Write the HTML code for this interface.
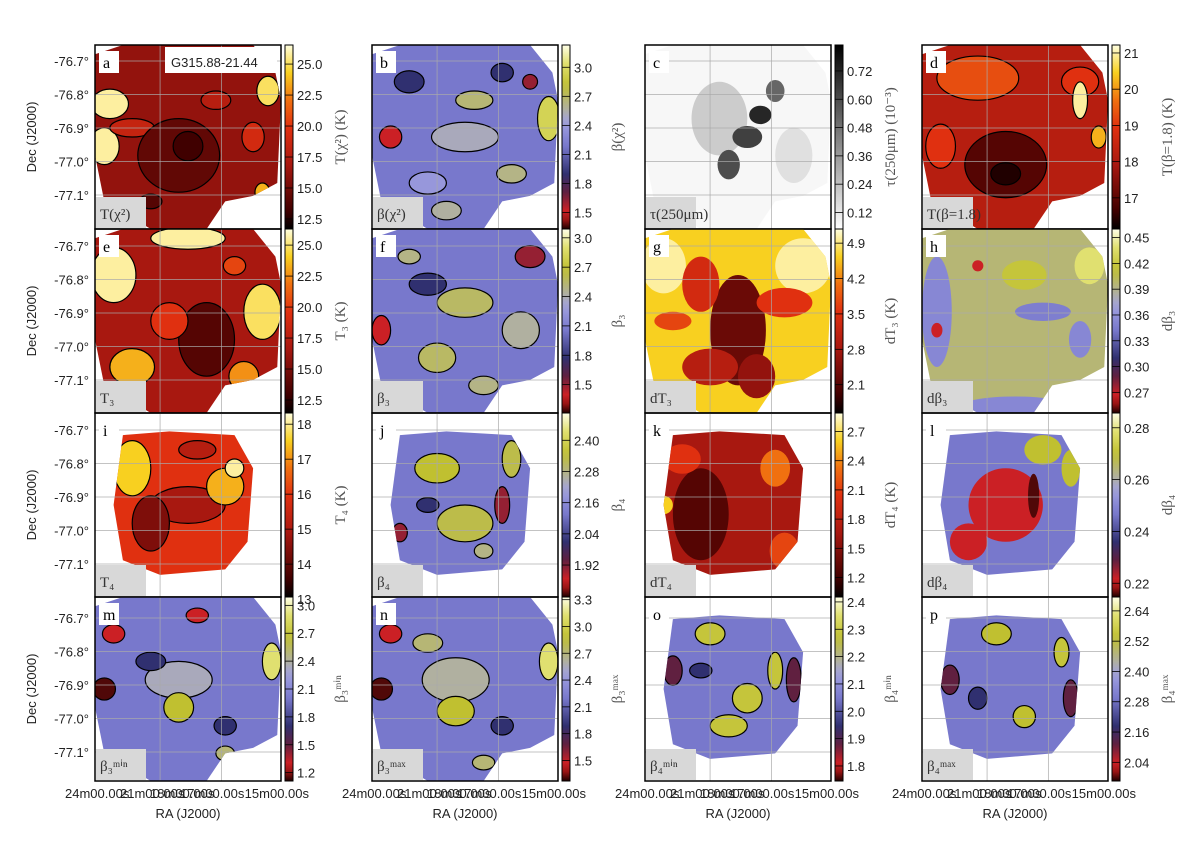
<!DOCTYPE html>
<html><head><meta charset="utf-8"><style>
body{margin:0;background:#fff;width:1200px;height:842px;overflow:hidden}
svg{display:block}
.tk{font-family:"Liberation Sans",sans-serif;font-size:13px;fill:#222}
.sr{font-family:"Liberation Serif",serif}
</style></head><body>
<svg id="fig" width="1200" height="842" xmlns="http://www.w3.org/2000/svg"></svg>
<script>
// ---- data ----
const panelIds = ["a","b","c","d","e","f","g","h","i","j","k","l","m","n","o","p"];
const panelTitles = ["T(χ²)","β(χ²)","τ(250μm)","T(β=1.8)","T₃","β₃","dT₃","dβ₃","T₄","β₄","dT₄","dβ₄","β₃ᵐⁱⁿ","β₃ᵐᵃˣ","β₄ᵐⁱⁿ","β₄ᵐᵃˣ"];
const cbarLabels = ["T(χ²) (K)","β(χ²)","τ(250μm) (10⁻³)","T(β=1.8) (K)","T₃ (K)","β₃","dT₃ (K)","dβ₃","T₄ (K)","β₄","dT₄ (K)","dβ₄","β₃ᵐⁱⁿ","β₃ᵐᵃˣ","β₄ᵐⁱⁿ","β₄ᵐᵃˣ"];
const cmaps = ["hot","beta","gray","hot","hot","beta","hot","beta","hot","beta","hot","beta","beta","beta","beta","beta"];
const cbarMin = [11.69,1.33,0.05,16.14,11.45,1.21,1.54,0.246,13.06,1.797,1.0,0.2147,1.11,1.27,1.745,1.966];
const cbarMax = [26.54,3.23,0.83,21.22,26.3,3.09,5.18,0.46,18.32,2.505,2.89,0.2857,3.09,3.33,2.418,2.695];
const cbarTicks = [
 ["12.5","15.0","17.5","20.0","22.5","25.0"],["1.5","1.8","2.1","2.4","2.7","3.0"],
 ["0.12","0.24","0.36","0.48","0.60","0.72"],["17","18","19","20","21"],
 ["12.5","15.0","17.5","20.0","22.5","25.0"],["1.5","1.8","2.1","2.4","2.7","3.0"],
 ["2.1","2.8","3.5","4.2","4.9"],["0.27","0.30","0.33","0.36","0.39","0.42","0.45"],
 ["13","14","15","16","17","18"],["1.92","2.04","2.16","2.28","2.40"],
 ["1.2","1.5","1.8","2.1","2.4","2.7"],["0.22","0.24","0.26","0.28"],
 ["1.2","1.5","1.8","2.1","2.4","2.7","3.0"],["1.5","1.8","2.1","2.4","2.7","3.0","3.3"],
 ["1.8","1.9","2.0","2.1","2.2","2.3","2.4"],["2.04","2.16","2.28","2.40","2.52","2.64"]];
const outlines = ["big","big","big","big","big","big","big","big","sq","sq","sq","sq","big","big","sq","sq"];
const contoured = [1,1,0,1,1,1,0,0,1,1,0,0,1,1,1,1];
const baseLevel = [0.3,0.45,0.03,0.4,0.35,0.45,0.85,0.7,0.55,0.45,0.35,0.45,0.45,0.45,0.45,0.45];
// patches: [cx, cy, rx, ry, level]
const patches = [
 [[0.08,0.32,0.1,0.08,0.95],[0.05,0.55,0.08,0.1,0.95],[0.93,0.25,0.06,0.08,0.9],[0.2,0.45,0.12,0.05,0.45],[0.45,0.6,0.22,0.2,0.18],[0.5,0.55,0.08,0.08,0.1],[0.85,0.5,0.06,0.08,0.5],[0.9,0.8,0.04,0.05,0.8],[0.65,0.3,0.08,0.05,0.4],[0.3,0.85,0.06,0.04,0.15]],
 [[0.2,0.2,0.08,0.06,0.3],[0.95,0.4,0.06,0.12,0.85],[0.5,0.5,0.18,0.08,0.62],[0.55,0.3,0.1,0.05,0.7],[0.1,0.5,0.06,0.06,0.1],[0.3,0.75,0.1,0.06,0.55],[0.75,0.7,0.08,0.05,0.68],[0.7,0.15,0.06,0.05,0.3],[0.4,0.9,0.08,0.05,0.65],[0.85,0.2,0.04,0.04,0.15]],
 [[0.4,0.4,0.15,0.2,0.2],[0.8,0.6,0.1,0.15,0.12],[0.55,0.5,0.08,0.06,0.75],[0.45,0.65,0.06,0.08,0.7],[0.62,0.38,0.06,0.05,0.85],[0.7,0.25,0.05,0.06,0.6]],
 [[0.3,0.18,0.22,0.12,0.62],[0.85,0.2,0.1,0.08,0.55],[0.45,0.65,0.22,0.18,0.15],[0.45,0.7,0.08,0.06,0.05],[0.85,0.3,0.04,0.1,0.95],[0.1,0.55,0.08,0.12,0.55],[0.95,0.5,0.04,0.06,0.8]],
 [[0.1,0.25,0.12,0.15,0.95],[0.5,0.05,0.2,0.06,0.95],[0.9,0.45,0.1,0.15,0.9],[0.2,0.75,0.12,0.1,0.8],[0.6,0.6,0.15,0.2,0.15],[0.4,0.5,0.1,0.1,0.55],[0.8,0.8,0.08,0.08,0.75],[0.75,0.2,0.06,0.05,0.6]],
 [[0.5,0.4,0.15,0.08,0.72],[0.35,0.7,0.1,0.08,0.72],[0.8,0.55,0.1,0.1,0.65],[0.05,0.55,0.05,0.08,0.1],[0.85,0.15,0.08,0.06,0.15],[0.3,0.3,0.1,0.06,0.3],[0.6,0.85,0.08,0.05,0.68],[0.2,0.15,0.06,0.04,0.68]],
 [[0.1,0.2,0.12,0.15,0.95],[0.85,0.2,0.15,0.15,0.95],[0.5,0.55,0.15,0.3,0.2],[0.3,0.3,0.1,0.15,0.5],[0.75,0.4,0.15,0.08,0.55],[0.35,0.75,0.15,0.1,0.4],[0.6,0.8,0.1,0.12,0.3],[0.15,0.5,0.1,0.05,0.6]],
 [[0.08,0.45,0.08,0.3,0.5],[0.5,0.97,0.3,0.06,0.5],[0.65,0.45,0.15,0.05,0.47],[0.9,0.2,0.08,0.1,0.9],[0.85,0.6,0.06,0.1,0.5],[0.08,0.55,0.03,0.04,0.1],[0.3,0.2,0.03,0.03,0.1],[0.55,0.25,0.12,0.08,0.8]],
 [[0.5,0.5,0.2,0.1,0.35],[0.2,0.3,0.1,0.15,0.85],[0.3,0.6,0.1,0.15,0.25],[0.7,0.4,0.1,0.1,0.8],[0.75,0.3,0.05,0.05,0.95],[0.55,0.2,0.1,0.05,0.4]],
 [[0.35,0.3,0.12,0.08,0.78],[0.5,0.6,0.15,0.1,0.75],[0.75,0.25,0.05,0.1,0.75],[0.7,0.5,0.04,0.1,0.15],[0.15,0.65,0.04,0.05,0.15],[0.3,0.5,0.06,0.04,0.3],[0.6,0.75,0.05,0.04,0.68]],
 [[0.3,0.55,0.15,0.25,0.15],[0.7,0.3,0.08,0.1,0.7],[0.2,0.25,0.1,0.08,0.55],[0.75,0.75,0.08,0.1,0.6],[0.1,0.5,0.05,0.05,0.85]],
 [[0.45,0.5,0.2,0.2,0.1],[0.25,0.7,0.1,0.1,0.1],[0.65,0.2,0.1,0.08,0.78],[0.8,0.3,0.05,0.1,0.78],[0.6,0.45,0.03,0.12,0.02]],
 [[0.45,0.45,0.18,0.1,0.62],[0.45,0.6,0.08,0.08,0.78],[0.95,0.35,0.05,0.1,0.9],[0.1,0.2,0.06,0.05,0.1],[0.05,0.5,0.06,0.06,0.02],[0.55,0.1,0.06,0.04,0.1],[0.3,0.35,0.08,0.05,0.3],[0.7,0.7,0.06,0.05,0.3],[0.7,0.85,0.05,0.04,0.7]],
 [[0.45,0.45,0.18,0.12,0.65],[0.45,0.62,0.1,0.08,0.78],[0.95,0.35,0.05,0.1,0.9],[0.3,0.25,0.08,0.05,0.7],[0.1,0.2,0.06,0.05,0.1],[0.05,0.5,0.06,0.06,0.02],[0.7,0.7,0.06,0.05,0.3],[0.6,0.9,0.06,0.04,0.7]],
 [[0.35,0.2,0.08,0.06,0.8],[0.55,0.55,0.08,0.08,0.8],[0.45,0.7,0.1,0.06,0.8],[0.7,0.4,0.04,0.1,0.8],[0.8,0.45,0.04,0.12,0.2],[0.15,0.4,0.05,0.08,0.2],[0.3,0.4,0.06,0.04,0.3]],
 [[0.4,0.2,0.08,0.06,0.78],[0.55,0.65,0.06,0.06,0.78],[0.75,0.3,0.04,0.08,0.8],[0.8,0.55,0.04,0.1,0.2],[0.15,0.45,0.05,0.08,0.2],[0.3,0.55,0.05,0.06,0.3]]];
const decTicks = ["-76.7°","-76.8°","-76.9°","-77.0°","-77.1°"];
const raTicks = ["24m00.00s","21m00.00s","18m00.00s","17m00.00s","15m00.00s"];
// ---- layout ----
const colX=[95,372,645,922], rowY=[45,229,413,597], PW=186, PH=184;
const decOff=[16,17,17,21], decStep=33.5;
const stops={hot:[[0,"#000000"],[0.1,"#400000"],[0.35,"#a81810"],[0.55,"#e03010"],[0.7,"#f07010"],[0.85,"#f8d020"],[1,"#ffffe0"]],
beta:[[0,"#200000"],[0.08,"#e02020"],[0.2,"#602040"],[0.3,"#303070"],[0.45,"#7878cc"],[0.58,"#a0a0e0"],[0.65,"#b0b0a0"],[0.78,"#c0c030"],[0.9,"#e0e070"],[1,"#ffffe8"]],
gray:[[0,"#ffffff"],[1,"#000000"]]};
function hx(c){return [1,3,5].map(i=>parseInt(c.substr(i,2),16));}
function cmap(name,t){const s=stops[name];t=Math.max(0,Math.min(1,t));
 for(let i=1;i<s.length;i++){if(t<=s[i][0]){const a=hx(s[i-1][1]),b=hx(s[i][1]),f=(t-s[i-1][0])/(s[i][0]-s[i-1][0]);
  return "rgb("+a.map((v,k)=>Math.round(v+(b[k]-v)*f)).join(",")+")";}}return s[s.length-1][1];}
const shapes={big:[[0,0.05],[0.15,0],[0.85,0],[0.97,0.15],[1,0.3],[0.98,0.75],[0.85,0.82],[0.7,0.85],[0.6,1],[0.3,1],[0.05,0.85],[0,0.6]],
sq:[[0.15,0.12],[0.4,0.1],[0.75,0.12],[0.85,0.3],[0.82,0.7],[0.7,0.85],[0.35,0.88],[0.15,0.8],[0.1,0.5]]};
const NS="http://www.w3.org/2000/svg", svg=document.getElementById("fig");
function E(t,a,p){const e=document.createElementNS(NS,t);for(const k in a)e.setAttribute(k,a[k]);(p||svg).appendChild(e);return e;}
const defs=E("defs",{});
panelIds.forEach((id,i)=>{
 const c=i%4,r=Math.floor(i/4),x0=colX[c],y0=rowY[r];
 const g=E("g",{});
 
 
 const sx=v=>x0+v*PW, sy=v=>y0+v*PH;
 const cp=E("clipPath",{id:"cp"+i},defs);
 E("polygon",{points:shapes[outlines[i]].map(p=>sx(p[0])+","+sy(p[1])).join(" ")},cp);
 const m=E("g",{"clip-path":"url(#cp"+i+")"},g);
 
 
 E("rect",{x:x0,y:y0,width:PW,height:PH,fill:cmap(cmaps[i],baseLevel[i])},m);
 patches[i].forEach(p=>{
  const el=E("ellipse",{cx:sx(p[0]),cy:sy(p[1]),rx:p[2]*PW,ry:p[3]*PH,fill:cmap(cmaps[i],p[4]),stroke:contoured[i]?"#000":"none","stroke-width":1.2},m);
  
  
 });
 [0.35,0.68].forEach(f=>E("line",{x1:sx(f),x2:sx(f),y1:y0,y2:y0+PH,stroke:"#aaa","stroke-width":1,opacity:0.7},g));
 decTicks.forEach((t,k)=>{const y=y0+decOff[r]+k*decStep;
  E("line",{x1:x0,x2:x0+PW,y1:y,y2:y,stroke:"#aaa","stroke-width":1,opacity:0.7},g);
  if(c===0){const tx=E("text",{x:x0-6,y:y+5,"text-anchor":"end",class:"tk"},g);tx.textContent=t;
   
   }
 });
 E("rect",{x:x0,y:y0,width:PW,height:PH,fill:"none",stroke:"#000","stroke-width":1.5},g);
 E("rect",{x:x0+4,y:y0+6,width:20,height:22,fill:"#fff"},g);
 const lt=E("text",{x:x0+8,y:y0+23,class:"sr","font-size":16},g);lt.textContent=id;
 
 
 if(i===0){E("rect",{x:x0+70,y:y0+2,width:112,height:26,fill:"#fff"},g);
  const tt=E("text",{x:x0+76,y:y0+22,class:"tk","font-size":17},g);tt.textContent="G315.88-21.44";
  
  }
 E("rect",{x:x0+1,y:y0+PH-32,width:50,height:31,fill:"#d8d8d8"},g);
 const pt=E("text",{x:x0+5,y:y0+PH-10,class:"sr","font-size":15,fill:"#333"},g);pt.textContent=panelTitles[i];
 
 
 const cx=x0+PW+4, mn=cbarMin[i], mx=cbarMax[i];
 const vy=v=>y0+PH-(v-mn)/(mx-mn)*PH;
 const gid="cg"+i, lg=E("linearGradient",{id:gid,x1:0,y1:1,x2:0,y2:0},defs);
 for(let k=0;k<=20;k++)E("stop",{offset:k/20,"stop-color":cmap(cmaps[i],k/20)},lg);
 const cb=E("rect",{x:cx,y:y0,width:8,height:PH,fill:"url(#"+gid+")",stroke:"#000","stroke-width":1},g);
 
 
 cbarTicks[i].forEach(t=>{const y=vy(parseFloat(t));
  E("line",{x1:cx,x2:cx+8,y1:y,y2:y,stroke:"#000","stroke-width":0.8},g);
  const tx=E("text",{x:cx+12,y:y+5,class:"tk"},g);tx.textContent=t;
  
  });
 const cl=E("text",{transform:"translate("+(cx+60)+","+(y0+PH/2)+") rotate(-90)","text-anchor":"middle",class:"sr","font-size":15,fill:"#555"},g);
 cl.textContent=cbarLabels[i];
 
 
 if(c===0){const dl=E("text",{transform:"translate(36,"+(y0+PH/2)+") rotate(-90)","text-anchor":"middle",class:"tk"},g);
  dl.textContent="Dec (J2000)";
  
  }
 if(r===3){
  const xs=[x0-30,x0+25,x0+55,x0+85,x0+PW+28];
  raTicks.forEach((t,k)=>{const tx=E("text",{x:xs[k],y:798,"text-anchor":k===4?"end":"start",class:"tk"},g);tx.textContent=t;
   
   });
  const xl=E("text",{x:x0+PW/2,y:818,"text-anchor":"middle",class:"tk"},g);xl.textContent="RA (J2000)";
  
  
 }
});
</script>
</body></html>
